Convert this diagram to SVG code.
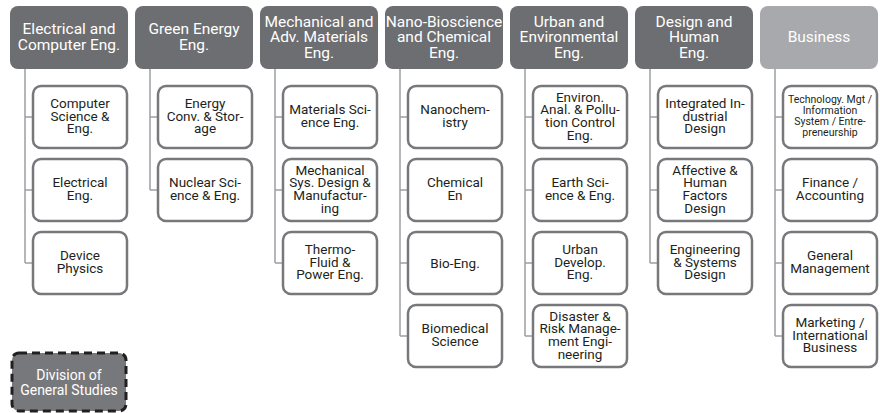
<svg xmlns="http://www.w3.org/2000/svg" width="880" height="413" viewBox="0 0 880 413">
<style>
.hd{fill:#6d6e71}
.hdl{fill:#a7a9ac}
.ht{font-family:"Liberation Sans Narrow","Roboto","Liberation Sans",sans-serif;font-size:15.5px;fill:#ffffff;text-anchor:middle}
.ch{fill:#ffffff;stroke:#77787b;stroke-width:2.5}
.ct{font-family:"Liberation Sans Narrow","Roboto","Liberation Sans",sans-serif;font-size:13.5px;fill:#231f20;text-anchor:middle}
.cs{font-family:"Liberation Sans Narrow","Roboto","Liberation Sans",sans-serif;font-size:10.5px;fill:#231f20;text-anchor:middle}
.cn{fill:none;stroke:#9d9fa2;stroke-width:1.5}
</style>
<rect width="880" height="413" fill="#ffffff"/>
<g id="connectors">
<path class="cn" d="M25 69V263M25 117H33M25 190H33M25 263H33"/>
<path class="cn" d="M150 69V190M150 117H158M150 190H158"/>
<path class="cn" d="M275 69V263M275 117H283M275 190H283M275 263H283"/>
<path class="cn" d="M400 69V336M400 117H408M400 190H408M400 263H408M400 336H408"/>
<path class="cn" d="M525 69V336M525 117H533M525 190H533M525 263H533M525 336H533"/>
<path class="cn" d="M650 69V263M650 117H658M650 190H658M650 263H658"/>
<path class="cn" d="M775 69V336M775 117H783M775 190H783M775 263H783M775 336H783"/>
</g>
<g id="h1"><rect class="hd" x="10" y="6" width="118" height="63" rx="8"/><text class="ht" x="69" y="34.25">Electrical and<tspan x="69" dy="15.5">Computer Eng.</tspan></text></g>
<g id="h2"><rect class="hd" x="135" y="6" width="118" height="63" rx="8"/><text class="ht" x="194" y="34.25">Green Energy<tspan x="194" dy="15.5">Eng.</tspan></text></g>
<g id="h3"><rect class="hd" x="260" y="6" width="118" height="63" rx="8"/><text class="ht" x="319" y="26.5">Mechanical and<tspan x="319" dy="15.5">Adv. Materials</tspan><tspan x="319" dy="15.5">Eng.</tspan></text></g>
<g id="h4"><rect class="hd" x="385" y="6" width="118" height="63" rx="8"/><text class="ht" x="444" y="26.5">Nano-Bioscience<tspan x="444" dy="15.5">and Chemical</tspan><tspan x="444" dy="15.5">Eng.</tspan></text></g>
<g id="h5"><rect class="hd" x="510" y="6" width="118" height="63" rx="8"/><text class="ht" x="569" y="26.5">Urban and<tspan x="569" dy="15.5">Environmental</tspan><tspan x="569" dy="15.5">Eng.</tspan></text></g>
<g id="h6"><rect class="hd" x="635" y="6" width="118" height="63" rx="8"/><text class="ht" x="694" y="26.5">Design and<tspan x="694" dy="15.5">Human</tspan><tspan x="694" dy="15.5">Eng.</tspan></text></g>
<g id="h7"><rect class="hdl" x="760" y="6" width="118" height="63" rx="8"/><text class="ht" x="819" y="42">Business</text></g>

<g id="c1a"><rect class="ch" x="33" y="86" width="94" height="62" rx="8"/><text class="ct" x="80" y="107.8">Computer<tspan x="80" dy="12.7">Science &amp;</tspan><tspan x="80" dy="12.7">Eng.</tspan></text></g>
<g id="c1b"><rect class="ch" x="33" y="159" width="94" height="62" rx="8"/><text class="ct" x="80" y="187.2">Electrical<tspan x="80" dy="12.7">Eng.</tspan></text></g>
<g id="c1c"><rect class="ch" x="33" y="232" width="94" height="62" rx="8"/><text class="ct" x="80" y="260.2">Device<tspan x="80" dy="12.7">Physics</tspan></text></g>

<g id="c2a"><rect class="ch" x="158" y="86" width="94" height="62" rx="8"/><text class="ct" x="205" y="107.8">Energy<tspan x="205" dy="12.7">Conv. &amp; Stor-</tspan><tspan x="205" dy="12.7">age</tspan></text></g>
<g id="c2b"><rect class="ch" x="158" y="159" width="94" height="62" rx="8"/><text class="ct" x="205" y="187.2">Nuclear Sci-<tspan x="205" dy="12.7">ence &amp; Eng.</tspan></text></g>

<g id="c3a"><rect class="ch" x="283" y="86" width="94" height="62" rx="8"/><text class="ct" x="330" y="114.2">Materials Sci-<tspan x="330" dy="12.7">ence Eng.</tspan></text></g>
<g id="c3b"><rect class="ch" x="283" y="159" width="94" height="62" rx="8"/><text class="ct" x="330" y="174.5">Mechanical<tspan x="330" dy="12.7">Sys. Design &amp;</tspan><tspan x="330" dy="12.7">Manufactur-</tspan><tspan x="330" dy="12.7">ing</tspan></text></g>
<g id="c3c"><rect class="ch" x="283" y="232" width="94" height="62" rx="8"/><text class="ct" x="330" y="253.8">Thermo-<tspan x="330" dy="12.7">Fluid &amp;</tspan><tspan x="330" dy="12.7">Power Eng.</tspan></text></g>

<g id="c4a"><rect class="ch" x="408" y="86" width="94" height="62" rx="8"/><text class="ct" x="455" y="114.2">Nanochem-<tspan x="455" dy="12.7">istry</tspan></text></g>
<g id="c4b"><rect class="ch" x="408" y="159" width="94" height="62" rx="8"/><text class="ct" x="455" y="187.2">Chemical<tspan x="455" dy="12.7">En</tspan></text></g>
<g id="c4c"><rect class="ch" x="408" y="232" width="94" height="62" rx="8"/><text class="ct" x="455" y="268">Bio-Eng.</text></g>
<g id="c4d"><rect class="ch" x="408" y="305" width="94" height="62" rx="8"/><text class="ct" x="455" y="333.2">Biomedical<tspan x="455" dy="12.7">Science</tspan></text></g>

<g id="c5a"><rect class="ch" x="533" y="86" width="94" height="62" rx="8"/><text class="ct" x="580" y="101.5">Environ.<tspan x="580" dy="12.7">Anal. &amp; Pollu-</tspan><tspan x="580" dy="12.7">tion Control</tspan><tspan x="580" dy="12.7">Eng.</tspan></text></g>
<g id="c5b"><rect class="ch" x="533" y="159" width="94" height="62" rx="8"/><text class="ct" x="580" y="187.2">Earth Sci-<tspan x="580" dy="12.7">ence &amp; Eng.</tspan></text></g>
<g id="c5c"><rect class="ch" x="533" y="232" width="94" height="62" rx="8"/><text class="ct" x="580" y="253.8">Urban<tspan x="580" dy="12.7">Develop.</tspan><tspan x="580" dy="12.7">Eng.</tspan></text></g>
<g id="c5d"><rect class="ch" x="533" y="305" width="94" height="62" rx="8"/><text class="ct" x="580" y="320.5">Disaster &amp;<tspan x="580" dy="12.7">Risk Manage-</tspan><tspan x="580" dy="12.7">ment Engi-</tspan><tspan x="580" dy="12.7">neering</tspan></text></g>

<g id="c6a"><rect class="ch" x="658" y="86" width="94" height="62" rx="8"/><text class="ct" x="705" y="107.8">Integrated In-<tspan x="705" dy="12.7">dustrial</tspan><tspan x="705" dy="12.7">Design</tspan></text></g>
<g id="c6b"><rect class="ch" x="658" y="159" width="94" height="62" rx="8"/><text class="ct" x="705" y="174.5">Affective &amp;<tspan x="705" dy="12.7">Human</tspan><tspan x="705" dy="12.7">Factors</tspan><tspan x="705" dy="12.7">Design</tspan></text></g>
<g id="c6c"><rect class="ch" x="658" y="232" width="94" height="62" rx="8"/><text class="ct" x="705" y="253.8">Engineering<tspan x="705" dy="12.7">&amp; Systems</tspan><tspan x="705" dy="12.7">Design</tspan></text></g>

<g id="c7a"><rect class="ch" x="783" y="86" width="94" height="62" rx="8"/><text class="cs" x="830" y="102.5">Technology. Mgt /<tspan x="830" dy="11">Information</tspan><tspan x="830" dy="11">System / Entre-</tspan><tspan x="830" dy="11">preneurship</tspan></text></g>
<g id="c7b"><rect class="ch" x="783" y="159" width="94" height="62" rx="8"/><text class="ct" x="830" y="187.2">Finance /<tspan x="830" dy="12.7">Accounting</tspan></text></g>
<g id="c7c"><rect class="ch" x="783" y="232" width="94" height="62" rx="8"/><text class="ct" x="830" y="260.2">General<tspan x="830" dy="12.7">Management</tspan></text></g>
<g id="c7d"><rect class="ch" x="783" y="305" width="94" height="62" rx="8"/><text class="ct" x="830" y="326.8">Marketing /<tspan x="830" dy="12.7">International</tspan><tspan x="830" dy="12.7">Business</tspan></text></g>

<g id="general"><rect x="12" y="353" width="114" height="58" rx="7" fill="#77787b" stroke="#231f20" stroke-width="3" stroke-dasharray="8 5"/><text class="ht" x="69" y="379.5" style="font-size:14px">Division of<tspan x="69" dy="15">General Studies</tspan></text></g>
</svg>
